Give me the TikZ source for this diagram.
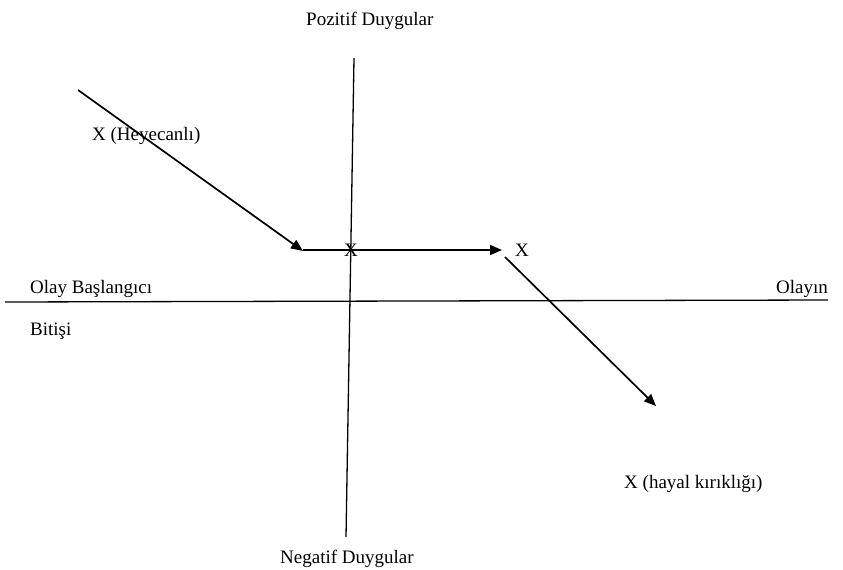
\documentclass[tikz,border=0pt]{standalone}
\usepackage{fontspec}
\setmainfont{Liberation Serif}
\usetikzlibrary{arrows.meta}
\begin{document}
\begin{tikzpicture}[x=1pt,y=-1pt,
  lbl/.style={inner sep=0pt,anchor=base west,font=\fontsize{19}{22}\selectfont},
  axis/.style={line width=1.3pt,black},
  arr/.style={line width=1.7pt,-{Triangle[length=12pt,width=10pt]}}]
\useasboundingbox (0,0) rectangle (843,570);
% axes
\coordinate (vt) at (354,58);
\coordinate (vb) at (346,537);
\coordinate (hl) at (5,302);
\coordinate (hr) at (828,300);
\draw[axis] (vt) -- (vb);
\draw[axis] (hl) -- (hr);
% arrows
\coordinate (a1s) at (78,90);
\coordinate (a1e) at (303,251);
\coordinate (a2s) at (303,250);
\coordinate (a2e) at (502,250);
\coordinate (a3s) at (505,257);
\coordinate (a3e) at (656,406);
\draw[arr] (a1s) -- (a1e);
\draw[arr] (a2s) -- (a2e);
\draw[arr] (a3s) -- (a3e);
% labels
\node[lbl] (pos) at (306,25) {Pozitif Duygular};
\node[lbl] (neg) at (280,563) {Negatif Duygular};
\node[lbl] (hey) at (92,140) {X (Heyecanlı)};
\node[lbl] (xm) at (344,256) {X};
\node[lbl] (xr) at (515,256) {X};
\node[lbl] (bas) at (30,293) {Olay Başlangıcı};
\node[lbl] (bit) at (30,335) {Bitişi};
\node[lbl,anchor=base east] (olay) at (828,293) {Olayın};
\node[lbl] (hay) at (624,488) {X (hayal kırıklığı)};
\end{tikzpicture}
\end{document}
